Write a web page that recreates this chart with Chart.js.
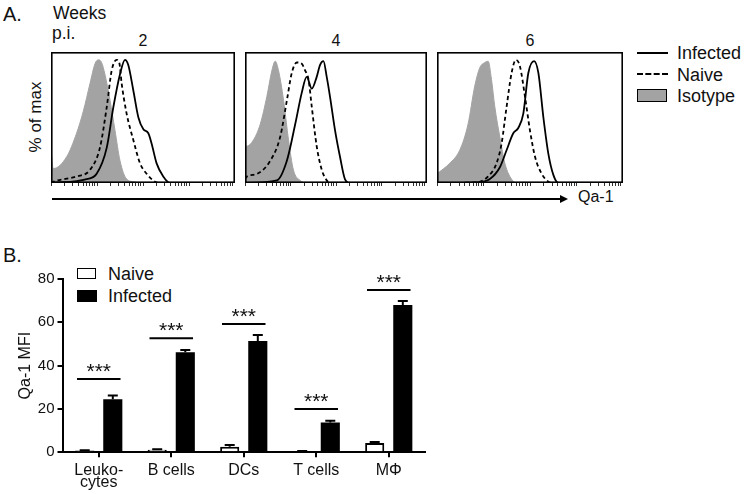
<!DOCTYPE html>
<html>
<head>
<meta charset="utf-8">
<script src="https://cdn.jsdelivr.net/npm/chart.js@4.4.1/dist/chart.umd.min.js"></script>
<style>
  body { margin: 0; background: #fff; }
  #page { position: relative; width: 744px; height: 494px; overflow: hidden;
          font-family: "Liberation Sans", Arial, sans-serif; color: #111; }
  .t { position: absolute; line-height: 1; white-space: nowrap; }
  canvas { position: absolute; }
  .hline { position: absolute; height: 0; }
</style>
</head>
<body>
<div id="page">
  <div class="t" style="left:3px;top:4px;font-size:20px">A.</div>
  <div class="t" style="left:53px;top:5px;font-size:17.5px">Weeks</div>
  <div class="t" style="left:52px;top:25px;font-size:17.5px">p.i.</div>
  <div class="t" id="pct" style="left:35px;top:117px;font-size:17px;transform:translate(-50%,-50%) rotate(-90deg)">% of max</div>

  <div class="t" style="left:143px;top:33px;font-size:16px;transform:translateX(-50%)">2</div>
  <div class="t" style="left:336px;top:33px;font-size:16px;transform:translateX(-50%)">4</div>
  <div class="t" style="left:530px;top:33px;font-size:16px;transform:translateX(-50%)">6</div>

  <canvas id="wk2" width="184" height="134" style="left:51px;top:52px"></canvas>
  <canvas id="wk4" width="182" height="134" style="left:245px;top:52px"></canvas>
  <canvas id="wk6" width="186" height="134" style="left:437px;top:52px"></canvas>

  <!-- legend A -->
  <div class="hline" style="left:637px;top:52px;width:31px;border-top:2px solid #000"></div>
  <div class="t" style="left:677px;top:44px;font-size:18px">Infected</div>
  <div class="hline" style="left:637px;top:73px;width:31px;border-top:2px dashed #000"></div>
  <div class="t" style="left:677px;top:66px;font-size:18px">Naive</div>
  <div style="position:absolute;left:637px;top:89px;width:28px;height:11px;background:#a3a3a3;border:1.5px solid #000"></div>
  <div class="t" style="left:677px;top:87px;font-size:18px">Isotype</div>

  <!-- Qa-1 arrow -->
  <div style="position:absolute;left:52px;top:198px;width:510px;height:2px;background:#000"></div>
  <div style="position:absolute;left:560px;top:195px;width:0;height:0;border-left:8px solid #000;border-top:4px solid transparent;border-bottom:4px solid transparent"></div>
  <div class="t" style="left:578px;top:189px;font-size:16px">Qa-1</div>

  <div class="t" style="left:3px;top:245px;font-size:20px">B.</div>
  <div style="position:absolute;left:77px;top:268px;width:17px;height:9px;background:#fff;border:1.5px solid #000"></div>
  <div class="t" style="left:108px;top:265px;font-size:18px">Naive</div>
  <div style="position:absolute;left:77px;top:290px;width:20px;height:12px;background:#000"></div>
  <div class="t" style="left:108px;top:287px;font-size:18px">Infected</div>

  <canvas id="bars" width="440" height="244" style="left:0;top:250px"></canvas>
</div>
<script>
// histogram curves, [x position in panel (0-100), % of max]
var wk2Isotype = [[0,26],[1.2,11],[8.5,20],[13.9,38],[17.6,55],[21.2,76],[23.9,91],[25.7,94],[27.5,92],[29.3,83],[32.1,63],[34.8,40],[37.5,17],[41.1,3],[44.7,1],[48.4,0],[100,0]];
var wk2Naive = [[0,0],[1.3,1],[13.9,5],[21.2,10],[26.6,27],[30.3,58],[33,86],[35.7,94],[37.1,92],[38.4,76],[41.1,53],[44.7,33],[48.4,15],[52,7],[56.5,1],[59.2,0],[100,0]];
var wk2Infected = [[0,0],[19.4,3],[24.8,7],[30.3,27],[33.9,58],[37.5,83],[40.2,94],[42,90],[44.7,71],[47.5,50],[50.2,41],[52.9,38],[54.7,30],[57.4,15],[61,5],[64.7,0],[100,0]];

var wk4Isotype = [[0,40],[0.7,28],[4.7,33],[8.4,45],[12,66],[14.8,86],[16.6,93],[18.4,86],[21.2,63],[23.9,33],[26.6,10],[30.3,2],[33.9,0],[100,0]];
var wk4Naive = [[0,3],[1.1,5],[6.6,7],[13.9,17],[19.3,35],[23,63],[25.7,84],[28.5,92],[31.2,91],[33,86],[34.9,79],[36.7,58],[39.4,28],[42.2,10],[44.9,2],[46.7,0],[100,0]];
var wk4Infected = [[0,0],[17.5,2],[23,17],[27.6,45],[31.2,69],[33.9,81],[36.7,72],[39.4,81],[41.2,90],[43.1,93],[44.9,81],[46.7,66],[49.5,40],[52.2,20],[54.9,3],[57.7,0],[100,0]];

var wk6Isotype = [[0,7],[6.8,15],[12.2,25],[16.7,45],[20.3,74],[23,88],[25.7,92],[27.5,93],[29.3,79],[31.1,58],[33.8,35],[36.5,15],[39.2,5],[42.8,0],[100,0]];
var wk6Naive = [[0,0],[21.2,0.5],[27.5,5],[32,15],[34.7,30],[37.4,58],[40.1,84],[42.4,94],[44.6,89],[47.3,66],[50,40],[52.7,20],[56.3,7],[59.9,1],[62.6,0],[100,0]];
var wk6Infected = [[0,0],[21.2,0.5],[28.4,3],[33.8,12],[37.4,25],[41,38],[43.7,42],[46.4,53],[49.1,84],[52.2,93],[54.5,84],[57.2,50],[59.9,22],[62.6,6],[65.3,0],[100,0]];

// bar chart
var cellTypes = [["Leuko-", "cytes"], "B cells", "DCs", "T cells", "MΦ"];
var naiveMFI = [0.8, 1.2, 2.6, 0.5, 4.3];
var naiveSEM = [0.2, 0.2, 0.8, 0.1, 0.4];
var infectedMFI = [24.5, 46.2, 51.4, 13.8, 68.0];
var infectedSEM = [1.7, 1.0, 2.7, 0.8, 1.8];
var sigLevel = [33.8, 52.6, 59.2, 20, 74.9];
var sigLabel = ["***", "***", "***", "***", "***"];
var yTicks = [0, 20, 40, 60, 80];

function pts(arr) {
    return arr.map(function (p) { return {x: p[0], y: p[1]}; });
}

// box round each histogram
var framePlugin = {
    id: "frame",
    afterDraw: function (chart) {
        var a = chart.chartArea, ctx = chart.ctx;
        ctx.save();
        ctx.strokeStyle = "#000";
        ctx.lineWidth = 1.6;
        ctx.strokeRect(a.left + 0.8, a.top + 0.8, a.right - a.left - 1.6, a.bottom - a.top - 1.6);
        ctx.restore();
    }
};

function histogram(id, iso, naive, inf) {
    new Chart(document.getElementById(id), {
        type: "line",
        data: {
            datasets: [
                { data: pts(inf), borderColor: "#000", borderWidth: 1.8, pointRadius: 0, cubicInterpolationMode: "monotone", fill: false },
                { data: pts(naive), borderColor: "#000", borderWidth: 1.8, borderDash: [4, 3], pointRadius: 0, cubicInterpolationMode: "monotone", fill: false },
                { data: pts(iso), borderColor: "#a3a3a3", backgroundColor: "#a3a3a3", borderWidth: 1, pointRadius: 0, cubicInterpolationMode: "monotone", fill: "origin" }
            ]
        },
        options: {
            responsive: false,
            animation: false,
            layout: { padding: 0 },
            plugins: { legend: { display: false }, tooltip: { enabled: false } },
            scales: {
                x: {
                    type: "linear", min: 0, max: 100,
                    border: { display: false },
                    grid: { drawOnChartArea: false, tickLength: 3, color: "#333", lineWidth: 1 },
                    ticks: { display: false },
                    // 4 log decades across the panel
                    afterBuildTicks: function (s) {
                        var t = [];
                        for (var d = 0; d < 4; d++) {
                            for (var m = 1; m < 10; m++) t.push({ value: (d + Math.log10(m)) * 25 });
                        }
                        t.push({ value: 100 });
                        s.ticks = t;
                    }
                },
                y: { display: false, min: 0, max: 100 }
            }
        },
        plugins: [framePlugin]
    });
}

histogram("wk2", wk2Isotype, wk2Naive, wk2Infected);
histogram("wk4", wk4Isotype, wk4Naive, wk4Infected);
histogram("wk6", wk6Isotype, wk6Naive, wk6Infected);

// error bars (upper half only) and significance lines
var extrasPlugin = {
    id: "extras",
    afterDatasetsDraw: function (chart) {
        var ctx = chart.ctx, xs = chart.scales.x, ys = chart.scales.y;
        var sems = [naiveSEM, infectedSEM];
        ctx.save();
        ctx.strokeStyle = "#000";
        ctx.lineWidth = 2;
        chart.data.datasets.forEach(function (ds, di) {
            chart.getDatasetMeta(di).data.forEach(function (bar, i) {
                var top = ys.getPixelForValue(ds.data[i] + sems[di][i]);
                ctx.beginPath();
                ctx.moveTo(bar.x, bar.y);
                ctx.lineTo(bar.x, top);
                ctx.moveTo(bar.x - 5, top);
                ctx.lineTo(bar.x + 5, top);
                ctx.stroke();
            });
        });
        var step = xs.getPixelForValue(1) - xs.getPixelForValue(0);
        ctx.fillStyle = "#111";
        ctx.font = "21px 'Liberation Sans', Arial, sans-serif";
        ctx.textAlign = "center";
        ctx.textBaseline = "alphabetic";
        sigLevel.forEach(function (v, i) {
            var cx = xs.getPixelForValue(i), y = ys.getPixelForValue(v);
            ctx.beginPath();
            ctx.moveTo(cx - 0.3 * step, y);
            ctx.lineTo(cx + 0.3 * step, y);
            ctx.stroke();
            ctx.fillText(sigLabel[i], cx, y - 1);
        });
        ctx.restore();
    }
};

new Chart(document.getElementById("bars"), {
    type: "bar",
    data: {
        labels: cellTypes,
        datasets: [
            { label: "Naive", data: naiveMFI, backgroundColor: "#fff", borderColor: "#000", borderWidth: 2 },
            { label: "Infected", data: infectedMFI, backgroundColor: "#000", borderColor: "#000", borderWidth: 0 }
        ]
    },
    options: {
        responsive: false,
        animation: false,
        layout: { padding: { left: 0, right: 15, top: 29, bottom: 0 } },
        categoryPercentage: 0.775,
        barPercentage: 0.68,
        plugins: { legend: { display: false }, tooltip: { enabled: false } },
        scales: {
            x: {
                border: { color: "#000", width: 2 },
                grid: { drawOnChartArea: false, offset: false, tickLength: 5, color: "#000", lineWidth: 2 },
                ticks: { color: "#111", padding: 8, font: { family: "'Liberation Sans', Arial, sans-serif", size: 16, lineHeight: 0.72 } },
                afterFit: function (s) { s.height = 41.7; }
            },
            y: {
                min: 0, max: 80,
                border: { color: "#000", width: 2 },
                grid: { drawOnChartArea: false, tickLength: 5, color: "#000", lineWidth: 2 },
                ticks: { color: "#111", padding: 3, font: { family: "'Liberation Sans', Arial, sans-serif", size: 15 } },
                afterBuildTicks: function (s) { s.ticks = yTicks.map(function (v) { return { value: v }; }); },
                title: { display: true, text: "Qa-1 MFI", color: "#111", padding: { top: 16, bottom: 0 },
                         font: { family: "'Liberation Sans', Arial, sans-serif", size: 16 } },
                afterFit: function (s) { s.width = 62.5; }
            }
        }
    },
    plugins: [extrasPlugin]
});
</script>
</body>
</html>
